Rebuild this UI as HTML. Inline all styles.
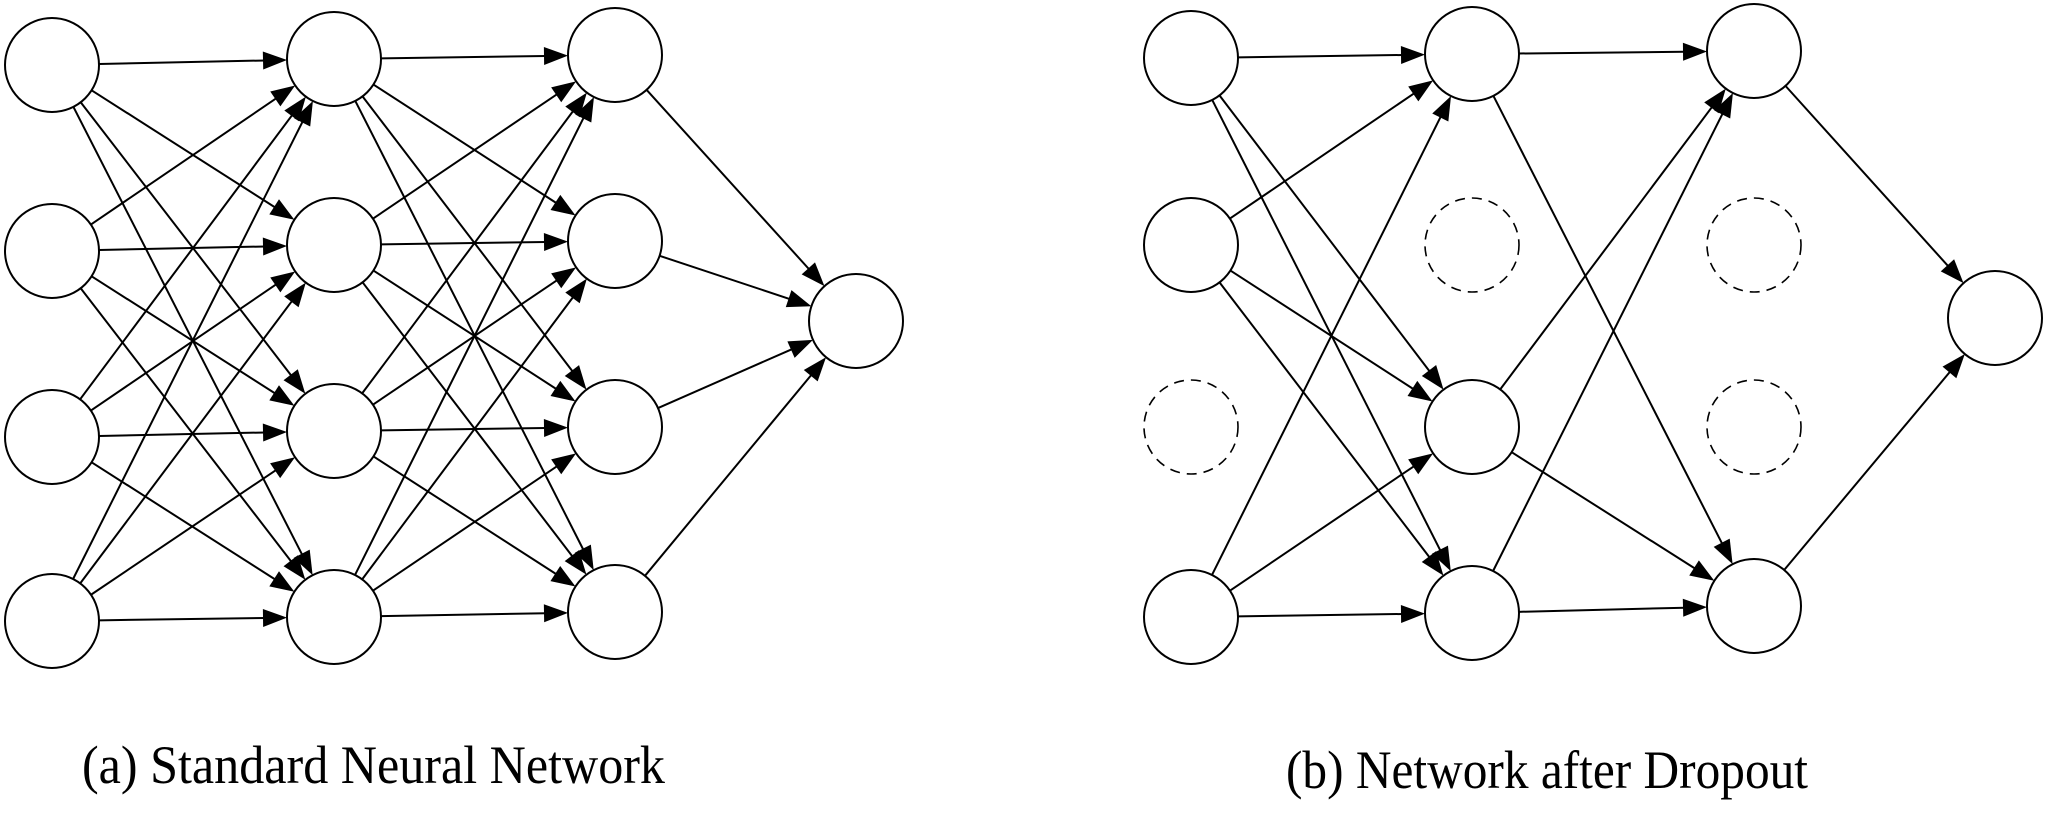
<!DOCTYPE html>
<html><head><meta charset="utf-8"><style>
html,body{margin:0;padding:0;background:#fff;}
svg{display:block;}
</style></head><body>
<svg id="s" width="2050" height="825" viewBox="0 0 2050 825" xmlns="http://www.w3.org/2000/svg">
<rect width="2050" height="825" fill="#fff"/>
<g id="edges" stroke="#000" stroke-width="2" fill="none"></g>
<g id="heads" fill="#000"></g>
<g id="nodes" stroke="#000" stroke-width="2" fill="#fff"></g>
<text x="82" y="783" font-family="Liberation Serif, serif" font-size="54" textLength="583" lengthAdjust="spacingAndGlyphs">(a) Standard Neural Network</text>
<text x="1286" y="788" font-family="Liberation Serif, serif" font-size="54" textLength="522" lengthAdjust="spacingAndGlyphs">(b) Network after Dropout</text>
</svg>
<script>
var R=47, NS="http://www.w3.org/2000/svg";
function el(g,t,a){var e=document.createElementNS(NS,t);for(var k in a)e.setAttribute(k,a[k]);document.getElementById(g).appendChild(e);return e;}
function node(x,y,d){var a={cx:x,cy:y,rx:R,ry:R};if(d){a["stroke-dasharray"]="10,7";a["stroke-width"]=1.6;}el("nodes","ellipse",a);}
function arrow(a,b){var dx=b[0]-a[0],dy=b[1]-a[1],L=Math.hypot(dx,dy),ux=dx/L,uy=dy/L;
 var sx=a[0]+ux*R,sy=a[1]+uy*R,ex=b[0]-ux*R,ey=b[1]-uy*R,hl=24,hw=9;
 var bx=ex-ux*hl,by=ey-uy*hl;
 el("edges","line",{x1:sx,y1:sy,x2:bx+ux*2,y2:by+uy*2});
 el("heads","polygon",{points:ex+","+ey+" "+(bx-uy*hw)+","+(by+ux*hw)+" "+(bx+uy*hw)+","+(by-ux*hw)});}
// Panel A
var A1=[[52,65],[52,251],[52,437],[52,621]],A2=[[334,59],[334,245],[334,431],[334,617]],A3=[[615,55],[615,241],[615,427],[615,612]],AO=[856,321];
A1.forEach(function(a){A2.forEach(function(b){arrow(a,b);});});
A2.forEach(function(a){A3.forEach(function(b){arrow(a,b);});});
A3.forEach(function(a){arrow(a,AO);});
A1.concat(A2,A3,[AO]).forEach(function(p){node(p[0],p[1]);});
// Panel B
var B1=[[1191,58],[1191,245],[1191,427],[1191,617]],B2=[[1472,54],[1472,245],[1472,427],[1472,613]],B3=[[1754,51],[1754,245],[1754,427],[1754,606]],BO=[1995,318];
[0,1,3].forEach(function(i){[0,2,3].forEach(function(j){arrow(B1[i],B2[j]);});});
[0,2,3].forEach(function(i){[0,3].forEach(function(j){arrow(B2[i],B3[j]);});});
[0,3].forEach(function(i){arrow(B3[i],BO);});
node(B1[0][0],B1[0][1]);node(B1[1][0],B1[1][1]);node(B1[2][0],B1[2][1],1);node(B1[3][0],B1[3][1]);
node(B2[0][0],B2[0][1]);node(B2[1][0],B2[1][1],1);node(B2[2][0],B2[2][1]);node(B2[3][0],B2[3][1]);
node(B3[0][0],B3[0][1]);node(B3[1][0],B3[1][1],1);node(B3[2][0],B3[2][1],1);node(B3[3][0],B3[3][1]);
node(BO[0],BO[1]);
</script>
</body></html>
